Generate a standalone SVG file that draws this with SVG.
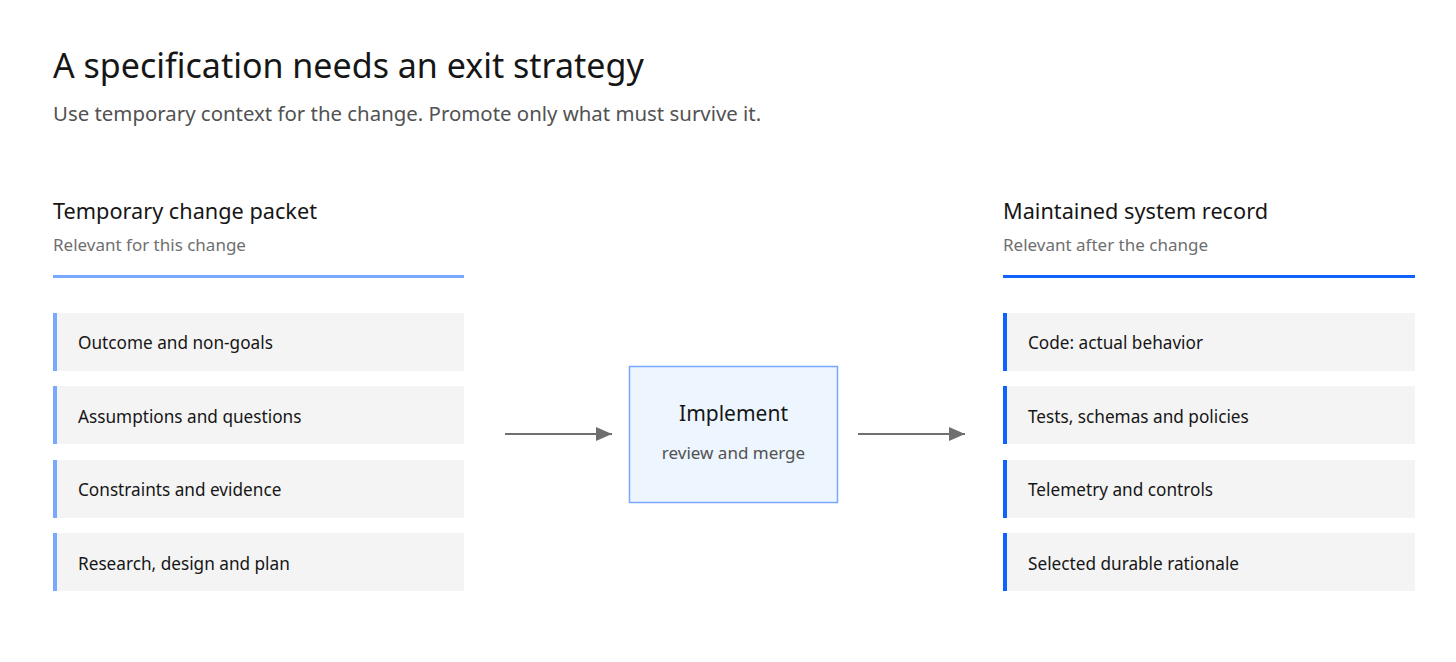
<svg xmlns="http://www.w3.org/2000/svg" width="1456" height="662" viewBox="0 0 1456 662">
<style>
text{font-family:"Noto Sans","Liberation Sans",sans-serif}
.t{font-size:34px;fill:#161616}
.s{font-size:20.4px;fill:#525252}
.h{font-size:21.7px;fill:#161616}
.hs{font-size:17px;fill:#6f6f6f}
.it{fill:#f4f4f4}
.lt{font-size:17.2px;fill:#161616}
.c{stroke:#6f6f6f;stroke-width:2;fill:none}
</style>
<defs><marker id="ah" viewBox="0 0 16 14" markerWidth="16" markerHeight="14" refX="16" refY="7" orient="auto" markerUnits="userSpaceOnUse"><path d="M0,0L16,7L0,14z" fill="#6f6f6f"/></marker></defs>
<rect width="1456" height="662" fill="#fff"/>
<text class="t" x="53" y="78">A specification needs an exit strategy</text>
<text class="s" x="53" y="121">Use temporary context for the change. Promote only what must survive it.</text>
<g id="left-header"><text class="h" x="53" y="219">Temporary change packet</text><text class="hs" x="53" y="251">Relevant for this change</text><rect x="53" y="275" width="411" height="3" fill="#78a9ff"/></g>
<g id="l1"><rect class="it" x="53" y="313" width="411" height="58"/><rect x="53" y="313" width="4" height="58" fill="#78a9ff"/><text class="lt" x="78" y="349">Outcome and non-goals</text></g>
<g id="l2"><rect class="it" x="53" y="386" width="411" height="58"/><rect x="53" y="386" width="4" height="58" fill="#78a9ff"/><text class="lt" x="78" y="423">Assumptions and questions</text></g>
<g id="l3"><rect class="it" x="53" y="460" width="411" height="58"/><rect x="53" y="460" width="4" height="58" fill="#78a9ff"/><text class="lt" x="78" y="496">Constraints and evidence</text></g>
<g id="l4"><rect class="it" x="53" y="533" width="411" height="58"/><rect x="53" y="533" width="4" height="58" fill="#78a9ff"/><text class="lt" x="78" y="570">Research, design and plan</text></g>
<g id="right-header"><text class="h" x="1003" y="219">Maintained system record</text><text class="hs" x="1003" y="251">Relevant after the change</text><rect x="1003" y="275" width="412" height="3" fill="#0f62fe"/></g>
<g id="r1"><rect class="it" x="1003" y="313" width="412" height="58"/><rect x="1003" y="313" width="4" height="58" fill="#0f62fe"/><text class="lt" x="1028" y="349">Code: actual behavior</text></g>
<g id="r2"><rect class="it" x="1003" y="386" width="412" height="58"/><rect x="1003" y="386" width="4" height="58" fill="#0f62fe"/><text class="lt" x="1028" y="423">Tests, schemas and policies</text></g>
<g id="r3"><rect class="it" x="1003" y="460" width="412" height="58"/><rect x="1003" y="460" width="4" height="58" fill="#0f62fe"/><text class="lt" x="1028" y="496">Telemetry and controls</text></g>
<g id="r4"><rect class="it" x="1003" y="533" width="412" height="58"/><rect x="1003" y="533" width="4" height="58" fill="#0f62fe"/><text class="lt" x="1028" y="570">Selected durable rationale</text></g>
<g id="implement"><rect x="629.5" y="366.5" width="208" height="136" fill="#edf5ff" stroke="#78a9ff" stroke-width="1.5"/><text x="733.5" y="421" text-anchor="middle" font-size="21" fill="#161616">Implement</text><text x="733.5" y="459" text-anchor="middle" font-size="17" fill="#525252">review and merge</text></g>
<g id="connectors"><line class="c" x1="505" y1="434" x2="612" y2="434" marker-end="url(#ah)"/><line class="c" x1="858" y1="434" x2="965" y2="434" marker-end="url(#ah)"/></g>
</svg>
